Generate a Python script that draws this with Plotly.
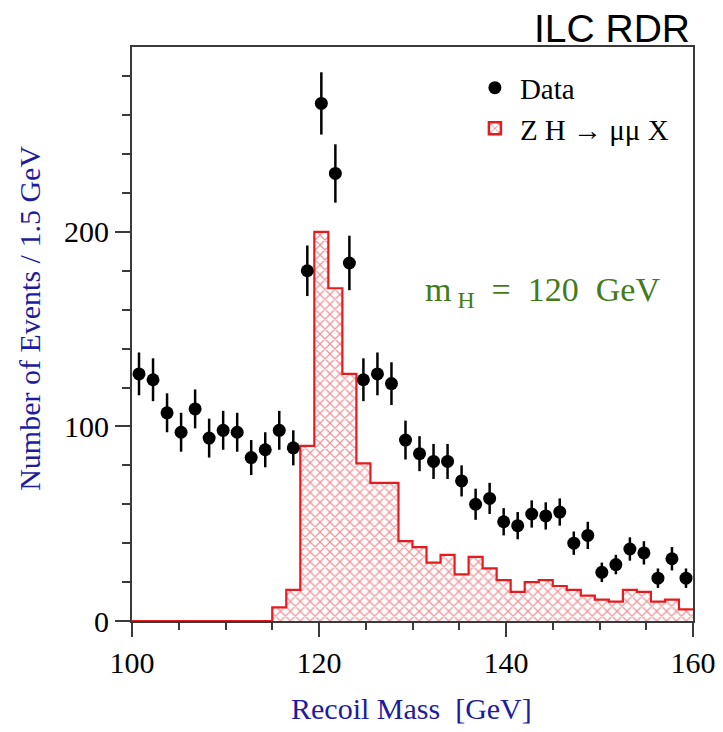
import plotly.graph_objects as go

# ---- data ----
bin_width = 1.5
x_min = 100.0
data_counts = [127, 124, 107, 97, 109, 94, 98, 97, 84, 88,
               98, 89, 180, 266, 230, 184, 124, 127, 122, 93,
               86, 82, 82, 72, 60, 63, 51, 49, 55, 54,
               56, 40, 44, 25, 29, 37, 35, 22, 32, 22]
data_errors = [11, 11, 10, 10, 10, 10, 10, 10, 9, 9,
               10, 9, 13, 16, 15, 14, 11, 11, 11, 10,
               9, 9, 9, 8, 8, 8, 7, 7, 7, 7,
               7, 6, 7, 5, 5, 6, 6, 5, 6, 5]
signal_counts = [0, 0, 0, 0, 0, 0, 0, 0, 0, 0,
                 7, 16, 90, 200, 171, 127, 81, 71, 71, 41,
                 38, 30, 34, 24, 33, 27, 21, 15, 20, 21,
                 18, 16, 13, 11, 10, 16, 15, 10, 11, 6]
x_tick_vals = [100, 120, 140, 160]
y_tick_vals = [0, 100, 200]

n_bins = len(data_counts)
bin_centers = [x_min + bin_width * (i + 0.5) for i in range(n_bins)]
bin_edges = [x_min + bin_width * i for i in range(n_bins + 1)]
step_y = signal_counts + [signal_counts[-1]]

RED = "rgb(228,28,32)"
BLUE = "rgb(28,28,160)"
GREEN = "rgb(66,124,24)"
AXIS = "#3a3a3a"
SERIF = "Liberation Serif, Times New Roman, serif"
HATCH = dict(shape="x", fgcolor="rgb(222,40,48)", bgcolor="white",
             size=7, solidity=0.32)

# page body has an 8px margin: figure is placed at (8, 8) inside a 723x732 page
OFF = 8
W, H = 723 - 2 * OFF, 732 - 2 * OFF
L = 131.5 - OFF
T = 46.7 - OFF
R = W - (693.5 - OFF)
B = H - (621 - OFF)
PW = W - L - R
PH = H - T - B


def px(xp):
    return (xp - OFF - L) / PW


def py(yp):
    return (H - B - (yp - OFF)) / PH


fig = go.Figure()

# hatched fill of the signal histogram
fig.add_trace(go.Bar(
    x=bin_centers, y=signal_counts, width=bin_width,
    marker=dict(color="white", pattern=HATCH, line=dict(width=0)),
    showlegend=False, hoverinfo="skip",
))
# outline of the signal histogram
fig.add_trace(go.Scatter(
    x=bin_edges, y=step_y, mode="lines", line_shape="hv",
    line=dict(color=RED, width=2.2), showlegend=False,
))
# legend entry for the signal (no marks drawn)
fig.add_trace(go.Bar(
    x=[None], y=[None],
    marker=dict(color="white", pattern=HATCH, line=dict(color=RED, width=2.5)),
    name="Z H \u2192 \u03bc\u03bc X", legendrank=2,
))
# data points
fig.add_trace(go.Scatter(
    x=bin_centers, y=data_counts, mode="markers",
    marker=dict(color="black", size=13, symbol="circle"),
    error_y=dict(type="data", array=data_errors, visible=True,
                 color="black", thickness=2.5, width=0),
    name="Data", legendrank=1,
))

fig.update_layout(
    width=W, height=H,
    margin=dict(l=L, r=R, t=T, b=B),
    paper_bgcolor="white", plot_bgcolor="white",
    showlegend=True, bargap=0, barmode="overlay",
    legend=dict(x=px(470), y=py(62), xanchor="left", yanchor="top",
                bgcolor="rgba(0,0,0,0)", borderwidth=0,
                font=dict(family=SERIF, size=29, color="black"),
                itemwidth=40),
    font=dict(family=SERIF, color="black"),
)

fig.update_xaxes(
    range=[100, 160], tickvals=x_tick_vals,
    ticks="outside", ticklen=14, tickwidth=1.5, tickcolor=AXIS,
    minor=dict(dtick=5, tick0=100, ticks="outside", ticklen=7,
               tickwidth=1.5, tickcolor=AXIS),
    showline=True, linecolor=AXIS, linewidth=2, mirror=True,
    showgrid=False, zeroline=False, automargin=False,
    ticklabeloverflow="allow",
    tickfont=dict(family=SERIF, size=30, color="black"),
)
fig.update_yaxes(
    range=[0, 295], tickvals=y_tick_vals,
    ticks="outside", ticklen=15, tickwidth=1.5, tickcolor=AXIS,
    minor=dict(dtick=20, tick0=0, ticks="outside", ticklen=8,
               tickwidth=1.5, tickcolor=AXIS),
    showline=True, linecolor=AXIS, linewidth=2, mirror=True,
    showgrid=False, zeroline=False, automargin=False,
    ticklabeloverflow="allow",
    tickfont=dict(family=SERIF, size=30, color="black"),
)

# axis titles
fig.add_annotation(text="Recoil Mass  [GeV]", xref="paper", yref="paper",
                   x=px(411), y=py(709),
                   xanchor="center", yanchor="middle", showarrow=False,
                   font=dict(family=SERIF, size=30, color=BLUE))
fig.add_annotation(text="Number of Events / 1.5 GeV", xref="paper", yref="paper",
                   x=px(28), y=py(318), textangle=-90,
                   xanchor="center", yanchor="middle", showarrow=False,
                   font=dict(family=SERIF, size=30, color=BLUE))

# m_H label
fig.add_annotation(text="m<sub> H</sub>  =  120  GeV", xref="paper", yref="paper",
                   x=px(543), y=py(292),
                   xanchor="center", yanchor="middle", showarrow=False,
                   font=dict(family=SERIF, size=34, color=GREEN))

# ILC RDR label
fig.add_annotation(text="ILC RDR", xref="paper", yref="paper",
                   x=px(692), y=py(52),
                   xanchor="right", yanchor="bottom", showarrow=False,
                   font=dict(family="Liberation Sans, Arial, sans-serif", size=39, color="black"))

fig.write_html("out.html")
